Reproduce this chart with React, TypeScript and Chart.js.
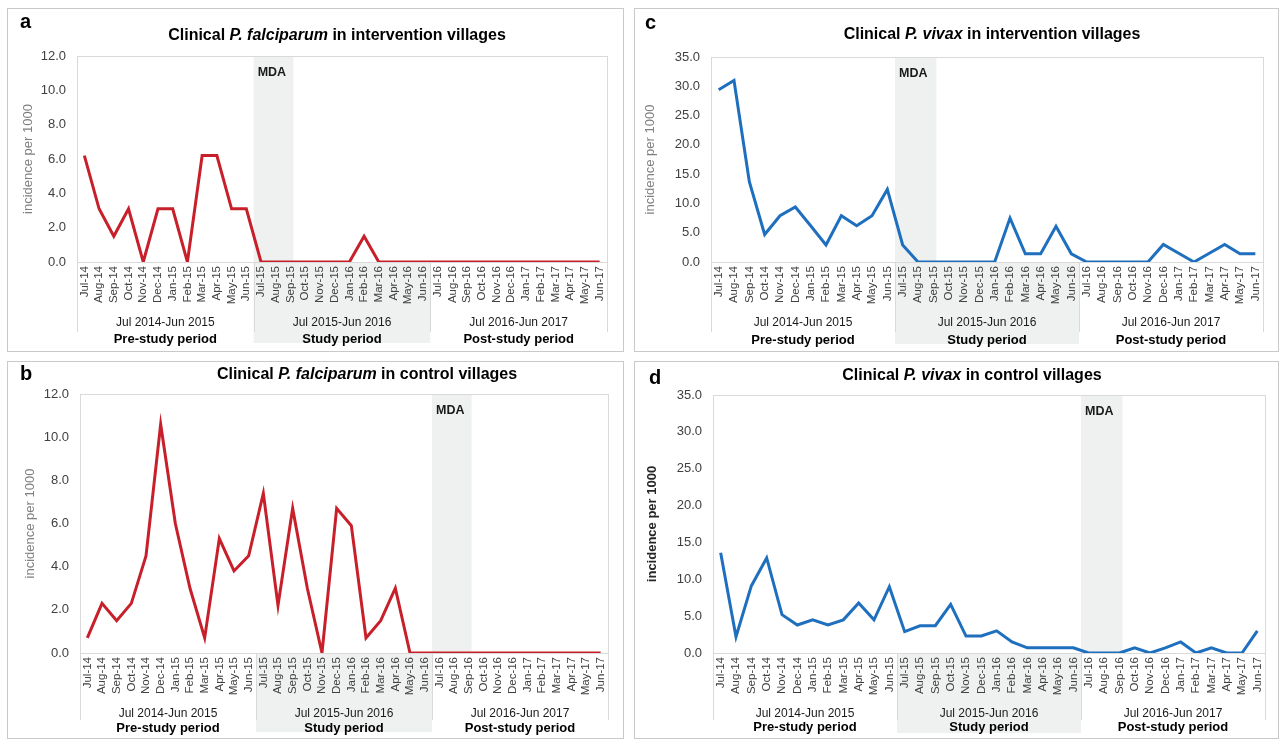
import React, { useEffect, useRef } from "react";
import { Chart, registerables } from "chart.js";

Chart.register(...registerables);

// ---------- data ----------
const months = [
  "Jul-14", "Aug-14", "Sep-14", "Oct-14", "Nov-14", "Dec-14", "Jan-15", "Feb-15", "Mar-15", "Apr-15", "May-15", "Jun-15",
  "Jul-15", "Aug-15", "Sep-15", "Oct-15", "Nov-15", "Dec-15", "Jan-16", "Feb-16", "Mar-16", "Apr-16", "May-16", "Jun-16",
  "Jul-16", "Aug-16", "Sep-16", "Oct-16", "Nov-16", "Dec-16", "Jan-17", "Feb-17", "Mar-17", "Apr-17", "May-17", "Jun-17",
];
const periodRanges = ["Jul 2014-Jun 2015", "Jul 2015-Jun 2016", "Jul 2016-Jun 2017"];
const periodNames = ["Pre-study period", "Study period", "Post-study period"];

const pfIntervention = [
  6.2, 3.1, 1.5, 3.1, 0, 3.1, 3.1, 0, 6.2, 6.2, 3.1, 3.1,
  0, 0, 0, 0, 0, 0, 0, 1.5, 0, 0, 0, 0,
  0, 0, 0, 0, 0, 0, 0, 0, 0, 0, 0, 0,
];
const pfControl = [
  0.7, 2.3, 1.5, 2.3, 4.5, 10.6, 6.0, 3.0, 0.7, 5.3, 3.8, 4.5,
  7.4, 2.2, 6.7, 3.0, 0, 6.7, 5.9, 0.7, 1.5, 3.0, 0, 0,
  0, 0, 0, 0, 0, 0, 0, 0, 0, 0, 0, 0,
];
const pvIntervention = [
  29.4, 31.0, 13.7, 4.7, 7.9, 9.4, 6.2, 2.9, 7.9, 6.2, 7.9, 12.4,
  2.9, 0, 0, 0, 0, 0, 0, 7.5, 1.4, 1.4, 6.1, 1.4,
  0, 0, 0, 0, 0, 3.0, 1.5, 0, 1.5, 3.0, 1.4, 1.4,
];
const pvControl = [
  13.6, 2.2, 9.1, 12.9, 5.2, 3.8, 4.5, 3.8, 4.5, 6.8, 4.5, 9.0,
  2.9, 3.7, 3.7, 6.6, 2.3, 2.3, 3.0, 1.5, 0.7, 0.7, 0.7, 0.7,
  0, 0, 0, 0.7, 0, 0.7, 1.5, 0, 0.7, 0, 0, 3.0,
];

const pfAxisMax = 12;
const pfAxisStep = 2;
const pvAxisMax = 35;
const pvAxisStep = 5;
const mdaStartIntervention = 12; // Jul-15
const mdaStartControl = 24; // Jul-16
const yAxisTitle = "incidence per 1000";

// ---------- styling ----------
const FONT = "'Liberation Sans', Arial, Helvetica, sans-serif";
const RED = "#c8202a";
const BLUE = "#1f6fbf";
const SHADE = "#eff0f0";
const FRAME = "#d9d9d9";

type PanelCfg = {
  letter: string;
  pre: string;
  species: string;
  post: string;
  data: number[];
  color: string;
  yMax: number;
  yStep: number;
  mdaStart: number;
  box: { left: number; top: number; width: number; height: number };
  area: { left: number; top: number; right: number; bottom: number };
  titleX: number;
  titleY: number;
  letterX: number;
  letterY: number;
  yTitlePad: number;
  yTitleBold: boolean;
  row2: number;
  sepDepth: number;
  shadeDepth: number;
};

const panels: PanelCfg[] = [
  {
    letter: "a", pre: "Clinical ", species: "P. falciparum", post: " in intervention villages",
    data: pfIntervention, color: RED, yMax: pfAxisMax, yStep: pfAxisStep, mdaStart: mdaStartIntervention,
    box: { left: 7, top: 8, width: 617, height: 344 },
    area: { left: 70, top: 48, right: 600, bottom: 254 },
    titleX: 330, titleY: 28, letterX: 13, letterY: 14, yTitlePad: 14, yTitleBold: false,
    row2: 77, sepDepth: 70, shadeDepth: 81,
  },
  {
    letter: "c", pre: "Clinical ", species: "P. vivax", post: " in intervention villages",
    data: pvIntervention, color: BLUE, yMax: pvAxisMax, yStep: pvAxisStep, mdaStart: mdaStartIntervention,
    box: { left: 634, top: 8, width: 645, height: 344 },
    area: { left: 77, top: 49, right: 629, bottom: 254 },
    titleX: 358, titleY: 27, letterX: 11, letterY: 15, yTitlePad: 9, yTitleBold: false,
    row2: 78, sepDepth: 70, shadeDepth: 82,
  },
  {
    letter: "b", pre: "Clinical ", species: "P. falciparum", post: " in control villages",
    data: pfControl, color: RED, yMax: pfAxisMax, yStep: pfAxisStep, mdaStart: mdaStartControl,
    box: { left: 7, top: 361, width: 617, height: 378 },
    area: { left: 73, top: 33, right: 601, bottom: 292 },
    titleX: 360, titleY: 14, letterX: 13, letterY: 13, yTitlePad: 16, yTitleBold: false,
    row2: 75, sepDepth: 67, shadeDepth: 79,
  },
  {
    letter: "d", pre: "Clinical ", species: "P. vivax", post: " in control villages",
    data: pvControl, color: BLUE, yMax: pvAxisMax, yStep: pvAxisStep, mdaStart: mdaStartControl,
    box: { left: 634, top: 361, width: 645, height: 378 },
    area: { left: 79, top: 34, right: 631, bottom: 292 },
    titleX: 338, titleY: 15, letterX: 15, letterY: 17, yTitlePad: 11, yTitleBold: true,
    row2: 74, sepDepth: 67, shadeDepth: 80,
  },
];

function makeDecorPlugin(cfg: PanelCfg) {
  const edge = (chart: any, i: number) => {
    const x = chart.scales.x;
    const bin = x.getPixelForValue(1) - x.getPixelForValue(0);
    return x.getPixelForValue(0) - bin / 2 + i * bin;
  };
  return {
    id: "decor-" + cfg.letter,
    beforeDraw(chart: any) {
      const ctx = chart.ctx;
      const { left, right, top, bottom } = chart.chartArea;
      const x = chart.scales.x;
      const bin = x.getPixelForValue(1) - x.getPixelForValue(0);
      ctx.save();
      ctx.fillStyle = "#ffffff";
      ctx.fillRect(0, 0, chart.width, chart.height);
      // MDA band inside plot
      ctx.fillStyle = SHADE;
      ctx.fillRect(edge(chart, cfg.mdaStart), top, bin * 2.7, bottom - top);
      // study period shading under the axis
      ctx.fillRect(edge(chart, 12), bottom, edge(chart, 24) - edge(chart, 12), cfg.shadeDepth);
      // plot frame
      ctx.strokeStyle = FRAME;
      ctx.lineWidth = 1;
      ctx.strokeRect(Math.round(left) + 0.5, Math.round(top) + 0.5, Math.round(right - left), Math.round(bottom - top));
      // period separators
      for (const i of [0, 12, 24, 36]) {
        const px = Math.round(edge(chart, i)) + 0.5;
        ctx.beginPath();
        ctx.moveTo(px, bottom);
        ctx.lineTo(px, bottom + cfg.sepDepth);
        ctx.stroke();
      }
      ctx.restore();
    },
    afterDraw(chart: any) {
      const ctx = chart.ctx;
      const { top, bottom } = chart.chartArea;
      ctx.save();
      // MDA label
      ctx.fillStyle = "#1a1a1a";
      ctx.font = `bold 12.5px ${FONT}`;
      ctx.textAlign = "left";
      ctx.textBaseline = "middle";
      ctx.fillText("MDA", edge(chart, cfg.mdaStart) + 4, top + 17);
      // period labels
      ctx.textAlign = "center";
      for (let g = 0; g < 3; g++) {
        const cx = (edge(chart, g * 12) + edge(chart, g * 12 + 12)) / 2;
        ctx.fillStyle = "#1a1a1a";
        ctx.font = `12px ${FONT}`;
        ctx.fillText(periodRanges[g], cx, bottom + 61);
        ctx.fillStyle = "#000000";
        ctx.font = `bold 13px ${FONT}`;
        ctx.fillText(periodNames[g], cx, bottom + cfg.row2);
      }
      // title with italic species name
      const parts = [
        { t: cfg.pre, f: `bold 16px ${FONT}` },
        { t: cfg.species, f: `italic bold 16px ${FONT}` },
        { t: cfg.post, f: `bold 16px ${FONT}` },
      ];
      let total = 0;
      const widths = parts.map((p) => {
        ctx.font = p.f;
        const w = ctx.measureText(p.t).width;
        total += w;
        return w;
      });
      let px = cfg.titleX - total / 2;
      ctx.textAlign = "left";
      ctx.fillStyle = "#000000";
      parts.forEach((p, i) => {
        ctx.font = p.f;
        ctx.fillText(p.t, px, cfg.titleY);
        px += widths[i];
      });
      // panel letter
      ctx.font = `bold 20px ${FONT}`;
      ctx.fillText(cfg.letter, cfg.letterX, cfg.letterY);
      ctx.restore();
    },
  };
}

function Panel({ cfg }: { cfg: PanelCfg }) {
  const ref = useRef<HTMLCanvasElement>(null);
  useEffect(() => {
    if (!ref.current) return;
    const { box, area } = cfg;
    const chart = new Chart(ref.current, {
      type: "line",
      data: {
        labels: months,
        datasets: [
          {
            data: cfg.data,
            borderColor: cfg.color,
            backgroundColor: cfg.color,
            borderWidth: 3,
            pointRadius: 0,
            tension: 0,
            fill: false,
          },
        ],
      },
      options: {
        animation: false,
        responsive: false,
        maintainAspectRatio: false,
        events: [],
        layout: { padding: { top: area.top, right: box.width - area.right, bottom: 0, left: 0 } },
        plugins: { legend: { display: false }, tooltip: { enabled: false }, title: { display: false } },
        scales: {
          x: {
            type: "category",
            offset: true,
            grid: { display: false, drawTicks: false },
            border: { display: false },
            ticks: {
              autoSkip: false,
              minRotation: 90,
              maxRotation: 90,
              padding: 4,
              color: "#404040",
              font: { family: FONT, size: 11.5 },
            },
            afterFit: (s: any) => {
              s.height = box.height - area.bottom;
            },
          },
          y: {
            min: 0,
            max: cfg.yMax,
            grid: { display: false, drawTicks: false },
            border: { display: false },
            ticks: {
              stepSize: cfg.yStep,
              padding: 11,
              color: "#404040",
              font: { family: FONT, size: 13 },
              callback: (v: any) => Number(v).toFixed(1),
            },
            title: {
              display: true,
              text: yAxisTitle,
              color: cfg.yTitleBold ? "#262626" : "#808080",
              font: { family: FONT, size: 13, weight: cfg.yTitleBold ? "bold" : "normal" },
              padding: { top: cfg.yTitlePad, bottom: 0 },
            },
            afterFit: (s: any) => {
              s.width = area.left;
            },
          },
        },
      },
      plugins: [makeDecorPlugin(cfg)],
    } as any);
    return () => chart.destroy();
  }, [cfg]);
  const { box } = cfg;
  return (
    <div
      style={{
        position: "absolute",
        left: box.left,
        top: box.top,
        width: box.width,
        height: box.height,
        boxSizing: "border-box",
      }}
    >
      <canvas
        ref={ref}
        width={box.width}
        height={box.height}
        style={{ width: box.width, height: box.height, display: "block" }}
      />
      <div
        style={{
          position: "absolute",
          inset: 0,
          border: "1.5px solid #c9c9c9",
          pointerEvents: "none",
        }}
      />
    </div>
  );
}

export default function App() {
  useEffect(() => {
    document.body.style.margin = "0";
    document.body.style.background = "#ffffff";
  }, []);
  return (
    <div style={{ position: "relative", width: 1280, height: 739, overflow: "hidden", background: "#fff" }}>
      {panels.map((p) => (
        <Panel key={p.letter} cfg={p} />
      ))}
    </div>
  );
}
